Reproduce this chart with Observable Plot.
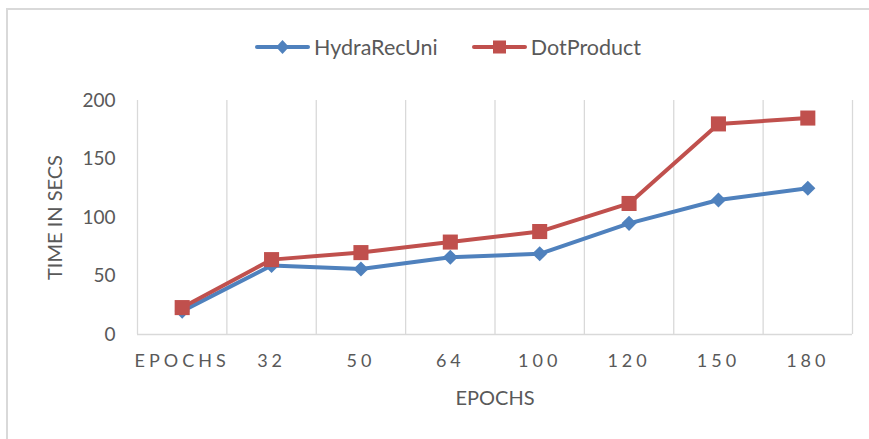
<!DOCTYPE html>
<html>
<head>
<meta charset="utf-8">
<script src="https://cdn.jsdelivr.net/npm/d3@7"></script>
<script src="https://cdn.jsdelivr.net/npm/@observablehq/plot@0.6"></script>
<style>
  html, body { margin: 0; padding: 0; background: #fff; }
  body { width: 869px; height: 439px; overflow: hidden; position: relative; font-family: Lato, "Open Sans", sans-serif; }
  #frame { position: absolute; left: 6px; top: 8px; width: 900px; height: 480px; border: 2px solid #D9D9D9; box-sizing: border-box; }
  #legend { position: absolute; left: 255px; top: 34px; display: flex; align-items: center; color: #595959; font-size: 21.5px; }
  .item { display: flex; align-items: center; margin-right: 34px; }
  .item svg { margin-right: 4px; }
  #chart { position: absolute; left: 0; top: 80px; }
  #chart svg { font-family: Lato, "Open Sans", sans-serif; }
  #chart g[aria-label="x-axis tick label"] text { letter-spacing: 4px; }
</style>
</head>
<body>
<div id="frame"></div>
<div id="legend"></div>
<div id="chart"></div>
<script>
const categories = ["EPOCHS", "32", "50", "64", "100", "120", "150", "180"];
const hydraRecUni = [20, 59, 56, 66, 69, 95, 115, 125];
const dotProduct = [23, 64, 70, 79, 88, 112, 180, 185];
const seriesNames = ["HydraRecUni", "DotProduct"];
const seriesColors = ["#4F81BD", "#C0504D"];
const yTicks = [0, 50, 100, 150, 200];

const idx = categories.map((_, i) => i);
const boundaries = d3.range(categories.length + 1).map(i => i - 0.5);
const rows = (vals) => vals.map((v, i) => ({i, v}));

const plot = Plot.plot({
  width: 869,
  height: 359,
  marginTop: 20,
  marginBottom: 105,
  marginLeft: 137,
  marginRight: 17,
  style: {color: "#595959", background: "transparent"},
  x: {type: "linear", domain: [-0.5, categories.length - 0.5]},
  y: {domain: [0, 200]},
  marks: [
    Plot.ruleX(boundaries, {stroke: "#D9D9D9", strokeWidth: 1.3}),
    Plot.ruleY([0], {stroke: "#D9D9D9", strokeWidth: 1.5}),
    Plot.axisX({ticks: idx, tickFormat: i => categories[i], tickSize: 0, tickPadding: 20, fontSize: 18, label: "EPOCHS", labelAnchor: "center", labelOffset: 70, color: "#595959"}),
    Plot.axisY({ticks: yTicks, tickSize: 0, tickPadding: 22, fontSize: 19, label: "TIME IN SECS", labelAnchor: "center", labelOffset: 90, color: "#595959"}),
    Plot.lineY(rows(hydraRecUni), {x: "i", y: "v", stroke: seriesColors[0], strokeWidth: 4}),
    Plot.dot(rows(hydraRecUni), {x: "i", y: "v", symbol: "diamond2", r: 6.8, fill: seriesColors[0], stroke: "none"}),
    Plot.lineY(rows(dotProduct), {x: "i", y: "v", stroke: seriesColors[1], strokeWidth: 4}),
    Plot.dot(rows(dotProduct), {x: "i", y: "v", symbol: "square", r: 8.5, fill: seriesColors[1], stroke: "none"})
  ]
});
plot.querySelectorAll('g[aria-label="x-axis label"] text, g[aria-label="y-axis label"] text').forEach(t => {
  t.setAttribute("font-size", 20);
  t.textContent = t.textContent.replace(/\s*[↑↓←→]\s*/g, "");
});
document.getElementById("chart").appendChild(plot);

// legend
const legend = document.getElementById("legend");
seriesNames.forEach((name, k) => {
  const item = document.createElement("div");
  item.className = "item";
  const sym = k === 0
    ? `<path d="M27.5,3 L34,10 L27.5,17 L21,10 Z" fill="${seriesColors[k]}"/>`
    : `<rect x="21" y="3.5" width="13" height="13" fill="${seriesColors[k]}"/>`;
  item.innerHTML = `<svg width="55" height="20"><line x1="2" x2="53" y1="10" y2="10" stroke="${seriesColors[k]}" stroke-width="4" stroke-linecap="round"/>${sym}</svg><span>${name}</span>`;
  legend.appendChild(item);
});
</script>
</body>
</html>
